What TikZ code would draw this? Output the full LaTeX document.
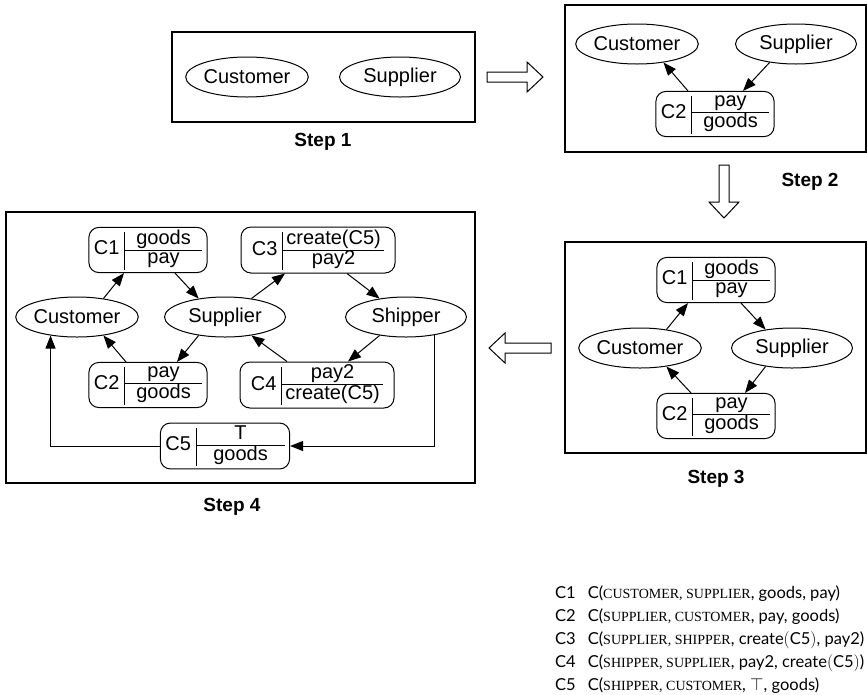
\documentclass[tikz,border=0pt]{standalone}
\usepackage{fontspec}
\newfontfamily\arialfont{Liberation Sans}
\newfontfamily\legendfont{Lato}
\newfontfamily\rolefont{Liberation Serif}
\usetikzlibrary{positioning,shapes.geometric,arrows.meta}

% commitment box: name | condition over result
\newcommand{\commitbox}[4]{%
  \renewcommand{\arraystretch}{0.8}\setlength{\arrayrulewidth}{0.6pt}%
  #1\hspace{5pt}\vrule width 0.6pt height 23pt depth 15pt%
  \begin{tabular}{@{}c@{}}\makebox[#4]{#2}\\\hline\makebox[#4]{#3}\end{tabular}}
% role names in the legend, set as small capitals
\newcommand{\rolename}[1]{{\rolefont\fontsize{14}{23}\selectfont #1}}

\tikzset{
  role/.style={ellipse,draw,line width=1pt,minimum width=121pt,minimum height=40pt,
    inner sep=0pt,font=\arialfont\fontsize{20}{22}\selectfont},
  commit/.style={draw,line width=1pt,rounded corners=10pt,minimum height=44pt,
    inner xsep=5pt,inner ysep=3pt,font=\arialfont\fontsize{20}{22}\selectfont},
  flow/.style={-{Triangle[length=13pt,width=10pt]},line width=1pt},
  panel/.style={draw,line width=1.3pt},
  steplabel/.style={font=\arialfont\bfseries\fontsize{19}{22}\selectfont},
  bigarrow/.style={draw,line width=1pt}
}

\begin{document}
\begin{tikzpicture}[x=1pt,y=-1pt]
  \useasboundingbox (0,0) rectangle (867,694);

  % step 1
  \draw[panel] (172,32) rectangle (475,122);
  \node[role] (s1cust) at (247,77) {Customer};
  \node[role] (s1supp) at (400,77) {Supplier};
  \node[steplabel] (s1lab) at (323,142) {Step 1};

  % step 2
  \draw[panel] (565,5) rectangle (866,152);
  \node[role] (s2cust) at (637,44) {Customer};
  \node[role] (s2supp) at (796,44) {Supplier};
  \node[commit] (s2c2) at (715,114) {\commitbox{C2}{pay}{goods}{77pt}};
  \node[steplabel] (s2lab) at (810,182) {Step 2};

  \draw[flow] ([xshift=-27pt]s2c2.north) -- (s2cust.-35);
  \draw[flow] (s2supp.-145) -- ([xshift=28pt]s2c2.north);

  % step 3
  \draw[panel] (565,242) rectangle (866,453);
  \node[commit] (s3c1) at (716,280) {\commitbox{C1}{goods}{pay}{77pt}};
  \node[role] (s3cust) at (640,348) {Customer};
  \node[role] (s3supp) at (792,348) {Supplier};
  \node[commit] (s3c2) at (716,416) {\commitbox{C2}{pay}{goods}{77pt}};
  \node[steplabel] (s3lab) at (716,479) {Step 3};

  \draw[flow] (s3cust.35) -- ([xshift=-28pt]s3c1.south);
  \draw[flow] ([xshift=25pt]s3c1.south) -- (s3supp.145);
  \draw[flow] (s3supp.-145) -- ([xshift=29pt]s3c2.north);
  \draw[flow] ([xshift=-25pt]s3c2.north) -- (s3cust.-35);

  % step 4
  \draw[panel] (6,212) rectangle (475,483);
  \node[commit] (s4c1) at (148,250) {\commitbox{C1}{goods}{pay}{77pt}};
  \node[commit,minimum width=154pt] (s4c3) at (318,250) {\commitbox{C3}{create(C5)}{pay2}{101pt}};
  \node[role] (s4cust) at (77,317) {Customer};
  \node[role] (s4supp) at (225,317) {Supplier};
  \node[role] (s4ship) at (406,317) {Shipper};
  \node[commit] (s4c2) at (148,385) {\commitbox{C2}{pay}{goods}{77pt}};
  \node[commit,minimum width=154pt] (s4c4) at (317,385) {\commitbox{C4}{pay2}{create(C5)}{101pt}};
  \node[commit] (s4c5) at (225,446) {\commitbox{C5}{T}{goods}{88pt}};
  \node[steplabel] (s4lab) at (232,507) {Step 4};

  \draw[flow] (s4cust.35) -- ([xshift=-24pt]s4c1.south);
  \draw[flow] ([xshift=27pt]s4c1.south) -- (s4supp.145);
  \draw[flow] (s4supp.35) -- ([xshift=-33pt]s4c3.south);
  \draw[flow] ([xshift=29pt]s4c3.south) -- (s4ship.145);
  \draw[flow] (s4ship.-145) -- ([xshift=31pt]s4c4.north);
  \draw[flow] ([xshift=-30pt]s4c4.north) -- (s4supp.-35);
  \draw[flow] (s4supp.-145) -- ([xshift=29pt]s4c2.north);
  \draw[flow] ([xshift=-22pt]s4c2.north) -- (s4cust.-35);
  \draw[flow] (s4ship.-33) |- (s4c5.east);
  \draw[flow] (s4c5.west) -| (s4cust.-145);

  % hollow arrows between the steps
  \foreach \x/\y/\a/\l in {487/77/0/56, 724/165/-90/53, 551/348/180/62}
    \draw[bigarrow,shift={(\x,\y)},rotate=\a]
      (0,5) -- (\l-16,5) -- (\l-16,15) -- (\l,0) -- (\l-16,-15) -- (\l-16,-5) -- (0,-5) -- cycle;

  % legend
  \node[anchor=north west,inner sep=0pt,font=\legendfont\fontsize{16.5}{23}\selectfont] (legend) at (555,582) {%
    \begin{tabular}{@{}l@{\hspace{12pt}}l@{}}
      C1 & C(\rolename{CUSTOMER, SUPPLIER}, goods, pay)\\
      C2 & C(\rolename{SUPPLIER, CUSTOMER}, pay, goods)\\
      C3 & C(\rolename{SUPPLIER, SHIPPER}, create$($C5$)$, pay2)\\
      C4 & C(\rolename{SHIPPER, SUPPLIER}, pay2, create$($C5$)$)\\
      C5 & C(\rolename{SHIPPER, CUSTOMER}, $\top$, goods)
    \end{tabular}};
\end{tikzpicture}
\end{document}
